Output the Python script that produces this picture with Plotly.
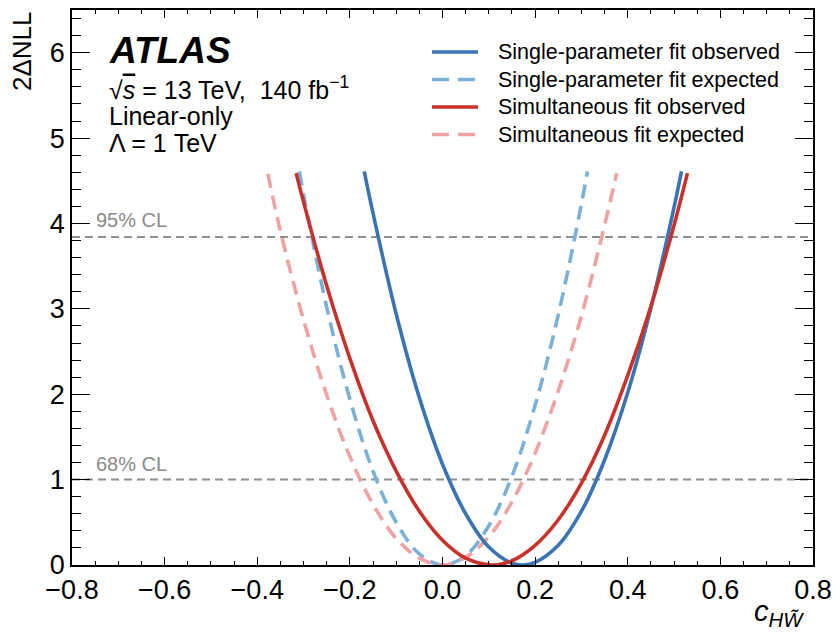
import plotly.graph_objects as go

# ---------------- data ----------------
single_obs_x = [-0.169, -0.15, -0.10, -0.05, 0.00, 0.05, 0.10, 0.15, 0.1735, 0.20, 0.25, 0.30, 0.35, 0.40, 0.45, 0.50, 0.516]
single_obs_y = [4.61, 4.12, 2.94, 1.96, 1.18, 0.60, 0.21, 0.02, 0.00, 0.03, 0.23, 0.63, 1.23, 2.02, 3.01, 4.19, 4.61]

single_exp_x = [-0.309, -0.30, -0.25, -0.20, -0.15, -0.10, -0.05, 0.002, 0.05, 0.10, 0.15, 0.20, 0.25, 0.30, 0.313]
single_exp_y = [4.61, 4.34, 3.02, 1.94, 1.10, 0.50, 0.13, 0.00, 0.11, 0.46, 1.04, 1.87, 2.93, 4.23, 4.61]

simul_obs_x = [-0.316, -0.30, -0.25, -0.20, -0.15, -0.10, -0.05, 0.00, 0.05, 0.1065, 0.15, 0.20, 0.25, 0.30, 0.35, 0.40, 0.45, 0.50, 0.529]
simul_obs_y = [4.59, 4.25, 3.27, 2.42, 1.69, 1.10, 0.63, 0.29, 0.08, 0.00, 0.05, 0.23, 0.53, 0.96, 1.52, 2.22, 3.03, 3.98, 4.59]

simul_exp_x = [-0.377, -0.35, -0.30, -0.25, -0.20, -0.15, -0.10, -0.05, 0.00, 0.05, 0.10, 0.15, 0.20, 0.25, 0.30, 0.35, 0.376]
simul_exp_y = [4.58, 3.91, 2.87, 1.99, 1.27, 0.71, 0.31, 0.08, 0.00, 0.09, 0.33, 0.74, 1.31, 2.04, 2.92, 3.98, 4.59]

series_names = ["Single-parameter fit observed", "Single-parameter fit expected",
                "Simultaneous fit observed", "Simultaneous fit expected"]
cl_values = [3.84, 1.0]
cl_labels = ["95% CL", "68% CL"]
x_ticks = [-0.8, -0.6, -0.4, -0.2, 0.0, 0.2, 0.4, 0.6, 0.8]
y_ticks = [0, 1, 2, 3, 4, 5, 6]

# ---------------- style ----------------
FONT = "Liberation Sans"
colors = ["#3b74b5", "#7bb0d9", "#c9322c", "#f0a2a2"]
dashes = ["solid", "14px,8px", "solid", "14px,8px"]
LW = 3.6

W, H = 833, 634
ML, MR, MT, MB = 72, 20, 10, 69
PW, PH = W - ML - MR, H - MT - MB


def px(xp):
    return (xp - ML) / PW


def py(yp):
    return (H - MB - yp) / PH


fig = go.Figure()
data = [(single_obs_x, single_obs_y), (single_exp_x, single_exp_y),
        (simul_obs_x, simul_obs_y), (simul_exp_x, simul_exp_y)]
order = [1, 3, 0, 2]
for i in order:
    xs, ys = data[i]
    fig.add_trace(go.Scatter(x=xs, y=ys, mode="lines", name=series_names[i],
                             line=dict(color=colors[i], width=LW, dash=dashes[i],
                                       shape="spline", smoothing=1.0),
                             showlegend=False, hoverinfo="skip"))

shapes = []
annotations = []
# CL lines
for v, lab, ylab in zip(cl_values, cl_labels, [220, 464]):
    shapes.append(dict(type="line", xref="paper", yref="y", x0=0, x1=1, y0=v, y1=v,
                       line=dict(color="#909090", width=2, dash="8px,5px"), layer="below"))
    annotations.append(dict(xref="paper", yref="paper", x=px(94), y=py(ylab), text=lab,
                            showarrow=False, xanchor="left", yanchor="middle",
                            font=dict(family=FONT, size=20, color="#8a8a8a")))

# manual legend
leg_rows = [52, 79.5, 107, 134.5]
for i, yr in enumerate(leg_rows):
    shapes.append(dict(type="line", xref="paper", yref="paper", x0=px(432), x1=px(478),
                       y0=py(yr), y1=py(yr),
                       line=dict(color=colors[i], width=LW,
                                 dash="solid" if dashes[i] == "solid" else "17px,9px")))
    annotations.append(dict(xref="paper", yref="paper", x=px(496), y=py(yr), text=series_names[i],
                            showarrow=False, xanchor="left", yanchor="middle",
                            font=dict(family=FONT, size=21.5, color="black")))

# ATLAS label block
annotations.append(dict(xref="paper", yref="paper", x=px(107), y=py(50), text="<b><i>ATLAS</i></b>",
                        showarrow=False, xanchor="left", yanchor="middle",
                        font=dict(family=FONT, size=37, color="black")))
text_lines = ["√<span style='text-decoration:overline'><i>s</i></span> = 13 TeV,  140 fb<sup>−1</sup>",
              "Linear-only", "Λ = 1 TeV"]
for t, yr in zip(text_lines, [88, 116, 143]):
    annotations.append(dict(xref="paper", yref="paper", x=px(107), y=py(yr), text=t,
                            showarrow=False, xanchor="left", yanchor="middle",
                            font=dict(family=FONT, size=25, color="black")))

# axis titles
annotations.append(dict(xref="paper", yref="paper", x=px(22), y=py(9), text="2ΔNLL",
                        textangle=-90, showarrow=False, xanchor="center", yanchor="top",
                        font=dict(family=FONT, size=26, color="black")))
annotations.append(dict(xref="paper", yref="paper", x=px(806), y=py(613),
                        text="<i>c</i><sub><i>HW̃</i></sub>",
                        showarrow=False, xanchor="right", yanchor="middle",
                        font=dict(family=FONT, size=29, color="black")))

axis_common = dict(showgrid=False, zeroline=False, showline=True, linecolor="black",
                   linewidth=1.5, mirror="ticks", ticks="inside", tickcolor="black",
                   tickwidth=1.2, automargin=False,
                   tickfont=dict(family=FONT, size=27, color="black"))

fig.update_layout(
    width=W, height=H,
    margin=dict(l=ML, r=MR, t=MT, b=MB),
    paper_bgcolor="white", plot_bgcolor="white",
    showlegend=False,
    shapes=shapes, annotations=annotations,
    xaxis=dict(range=[-0.8, 0.8], tickvals=x_ticks, ticktext=[("−" if v < 0 else "") + f"{abs(v):.1f}" for v in x_ticks],
               ticklen=8,
               minor=dict(ticks="inside", ticklen=4, dtick=0.05, tickcolor="black", tickwidth=1.2),
               **axis_common),
    yaxis=dict(range=[0, 6.5], tickvals=y_ticks, ticktext=[str(v) for v in y_ticks],
               ticklen=18,
               minor=dict(ticks="inside", ticklen=9, dtick=0.2, tickcolor="black", tickwidth=1.2),
               **axis_common),
)

fig.write_html("out.html")
